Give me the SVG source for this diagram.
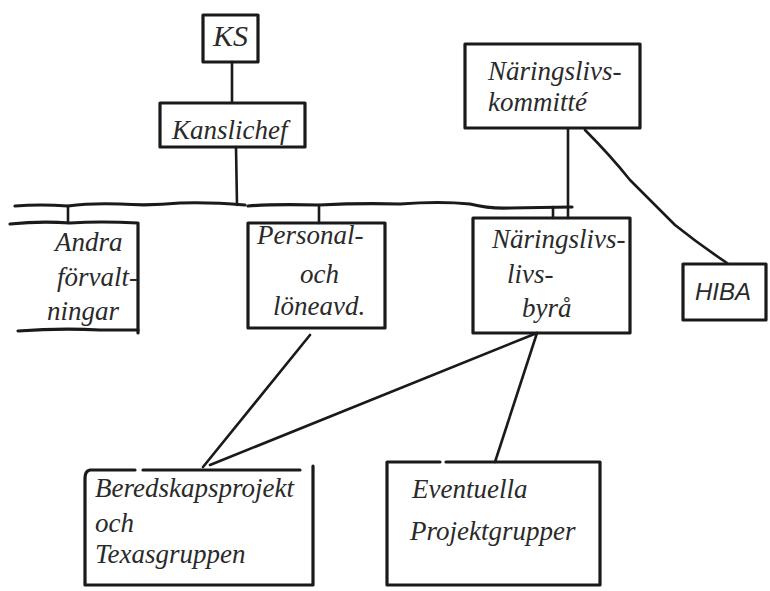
<svg xmlns="http://www.w3.org/2000/svg" width="770" height="591" viewBox="0 0 770 591">
<style>
.bx{fill:none;stroke:#1a1a1a;stroke-width:3.2;stroke-linecap:round;stroke-linejoin:round}
.cn{fill:none;stroke:#1a1a1a;stroke-width:2.6;stroke-linecap:round;stroke-linejoin:round}
.t{font-family:'Liberation Serif','DejaVu Serif',serif;font-style:italic;font-size:27px;fill:#2a2a2a}
.s{font-family:'Liberation Sans',Arial,sans-serif;font-style:italic;font-size:24px;fill:#2a2a2a}
</style>
<rect width="770" height="591" fill="#ffffff"/>
<g id="connectors">
<path class="cn" d="M232,62 L232,103"/>
<path class="cn" d="M236,147 L237,205"/>
<path class="bx" d="M15,206 Q40,204 68,206 Q90,203 120,204 Q150,206 180,203 Q210,202 245,205"/>
<path class="bx" d="M248,206 Q270,204 319,205 Q360,203 400,204 Q440,201 470,204 Q490,209 510,208 L572,207"/>
<path class="cn" d="M68,206 L68,223"/>
<path class="cn" d="M319,205 L319,223"/>
<path class="cn" d="M553,207 L553,218"/>
<path class="cn" d="M568,128 L568,218"/>
<path class="cn" d="M585,130 Q610,155 630,180 Q655,205 675,225 Q700,245 727,263"/>
<path class="cn" d="M310,335 L203,467"/>
<path class="cn" d="M537,333 L210,465"/>
<path class="cn" d="M537,333 L495,462"/>
</g>
<g id="ks">
<path class="bx" d="M203,15 L258,15 L258,62 L203,62 Z"/>
<text class="t" x="213" y="46" style="font-size:30px">KS</text>
</g>
<g id="kanslichef">
<path class="bx" d="M160,103 L305,103 L305,147 L160,147 Z"/>
<text class="t" x="172" y="139">Kanslichef</text>
</g>
<g id="naringslivskommitte">
<path class="bx" d="M465,44 L640,44 L640,128 L465,128 Z"/>
<text class="t" x="488" y="80">Näringslivs-</text>
<text class="t" x="488" y="111">kommitté</text>
</g>
<g id="andra">
<path class="bx" d="M10,224 Q40,221 70,223 Q100,221 138,223 L138,333"/>
<path class="bx" d="M18,331 Q60,328 100,330 L138,330"/>
<text class="t" x="55" y="251">Andra</text>
<text class="t" x="57" y="286">förvalt-</text>
<text class="t" x="47" y="320">ningar</text>
</g>
<g id="personal">
<path class="bx" d="M248,223 L385,223 L385,328 L248,328 Z"/>
<text class="t" x="257" y="244">Personal-</text>
<text class="t" x="300" y="283">och</text>
<text class="t" x="273" y="315">löneavd.</text>
</g>
<g id="naringslivsbyra">
<path class="bx" d="M473,218 L630,218 L630,333 L473,333 Z"/>
<text class="t" x="492" y="248">Näringslivs-</text>
<text class="t" x="507" y="283">livs-</text>
<text class="t" x="522" y="317">byrå</text>
</g>
<g id="hiba">
<path class="bx" d="M683,264 L766,264 L766,320 L683,320 Z"/>
<text class="s" x="695" y="300">HIBA</text>
</g>
<g id="beredskap">
<path class="bx" d="M135,470 L90,470 Q85,471 85,478 L85,585 L313,585 L313,466"/>
<path class="bx" d="M143,470 L300,470"/>
<text class="t" x="95" y="497">Beredskapsprojekt</text>
<text class="t" x="95" y="532">och</text>
<text class="t" x="95" y="563">Texasgruppen</text>
</g>
<g id="eventuella">
<path class="bx" d="M440,462 L387,462 L387,585 L600,585 L600,462 L446,462"/>
<text class="t" x="412" y="498">Eventuella</text>
<text class="t" x="410" y="540">Projektgrupper</text>
</g>
</svg>
